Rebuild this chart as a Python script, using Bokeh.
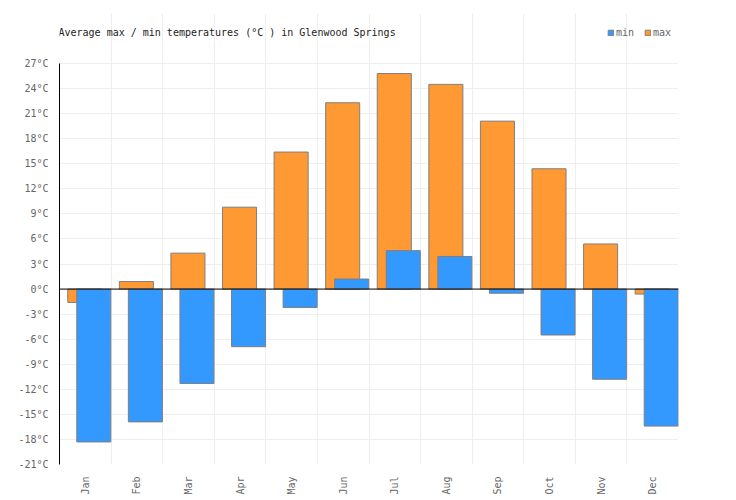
import math
from bokeh.plotting import figure
from bokeh.models import (FactorRange, Range1d, FixedTicker, Grid, Span, Legend, LegendItem,
                          PrintfTickFormatter, ColumnDataSource, Label)
from bokeh.transform import dodge
from bokeh.embed import file_html
from bokeh.resources import INLINE

months = ["Jan", "Feb", "Mar", "Apr", "May", "Jun", "Jul", "Aug", "Sep", "Oct", "Nov", "Dec"]
max_temps = [-1.6, 0.9, 4.3, 9.8, 16.4, 22.3, 25.8, 24.5, 20.1, 14.4, 5.4, -0.6]
min_temps = [-18.3, -15.9, -11.3, -6.9, -2.2, 1.2, 4.6, 3.9, -0.5, -5.5, -10.8, -16.4]
y_ticks = list(range(-21, 28, 3))
title_text = "Average max / min temperatures (°C ) in Glenwood Springs"

FONT = "DejaVu Sans Mono"
Y_MIN, Y_MAX = -21, 27
PLOT_H = 401          # pixel height of the -21..27 area
EXTRA_TOP = 50        # header space for title and legend inside the frame
y_top = Y_MAX + EXTRA_TOP * (Y_MAX - Y_MIN) / PLOT_H

src = ColumnDataSource(dict(month=months, tmax=max_temps, tmin=min_temps))

p = figure(x_range=FactorRange(*months), y_range=Range1d(Y_MIN, y_top),
           frame_width=619, frame_height=PLOT_H + EXTRA_TOP, output_backend="svg",
           toolbar_location=None,
           min_border_left=59, min_border_right=50, min_border_top=13, min_border_bottom=30,
           outline_line_color=None)
p.title.visible = False

r_max = p.vbar(x=dodge("month", -0.01, range=p.x_range), top="tmax", bottom=0, width=0.66,
               source=src, fill_color="#FF9933", line_color="#7f7f7f", line_width=1)
r_min = p.vbar(x=dodge("month", 0.165, range=p.x_range), top="tmin", bottom=0, width=0.66,
               source=src, fill_color="#3399FF", line_color="#7f7f7f", line_width=1)

p.xgrid.visible = False
p.ygrid.grid_line_color = "#eeeeee"
p.ygrid.ticker = FixedTicker(ticks=y_ticks)
p.add_layout(Grid(dimension=0, ticker=FixedTicker(ticks=list(range(0, 13))),
                  grid_line_color="#eeeeee", bounds=(Y_MIN, Y_MAX)))

p.yaxis.ticker = FixedTicker(ticks=y_ticks)
p.yaxis.bounds = (Y_MIN, Y_MAX)
p.yaxis.formatter = PrintfTickFormatter(format="%d°C")
p.yaxis.axis_line_color = "black"
p.yaxis.major_tick_line_color = None
p.yaxis.minor_tick_line_color = None
p.yaxis.major_label_text_font = FONT
p.yaxis.major_label_text_font_size = "10px"
p.yaxis.major_label_text_color = "#666666"
p.yaxis.major_label_standoff = 5

p.xaxis.axis_line_color = None
p.xaxis.major_tick_line_color = None
p.xaxis.major_label_orientation = math.pi / 2
p.xaxis.major_label_text_font = FONT
p.xaxis.major_label_text_font_size = "10px"
p.xaxis.major_label_text_color = "#666666"
p.xaxis.major_label_standoff = 6

p.add_layout(Span(location=0, dimension="width", line_color="black", line_width=1))

p.add_layout(Label(x=0, y=Y_MAX, x_offset=-1, y_offset=31, text=title_text,
                   text_font=FONT, text_font_size="10px", text_color="#222222",
                   text_baseline="middle", text_align="left"))

legend = Legend(items=[LegendItem(label="min", renderers=[r_min]),
                       LegendItem(label="max", renderers=[r_max])],
                orientation="horizontal", location=(548, PLOT_H + 25),
                glyph_width=7, glyph_height=7, label_text_font=FONT,
                label_text_font_size="10px", label_text_color="#666666",
                label_standoff=2, spacing=8, padding=0, margin=0,
                border_line_color=None, background_fill_alpha=0, label_height=10)
p.add_layout(legend)

open("out.html", "w").write(file_html(p, INLINE))
